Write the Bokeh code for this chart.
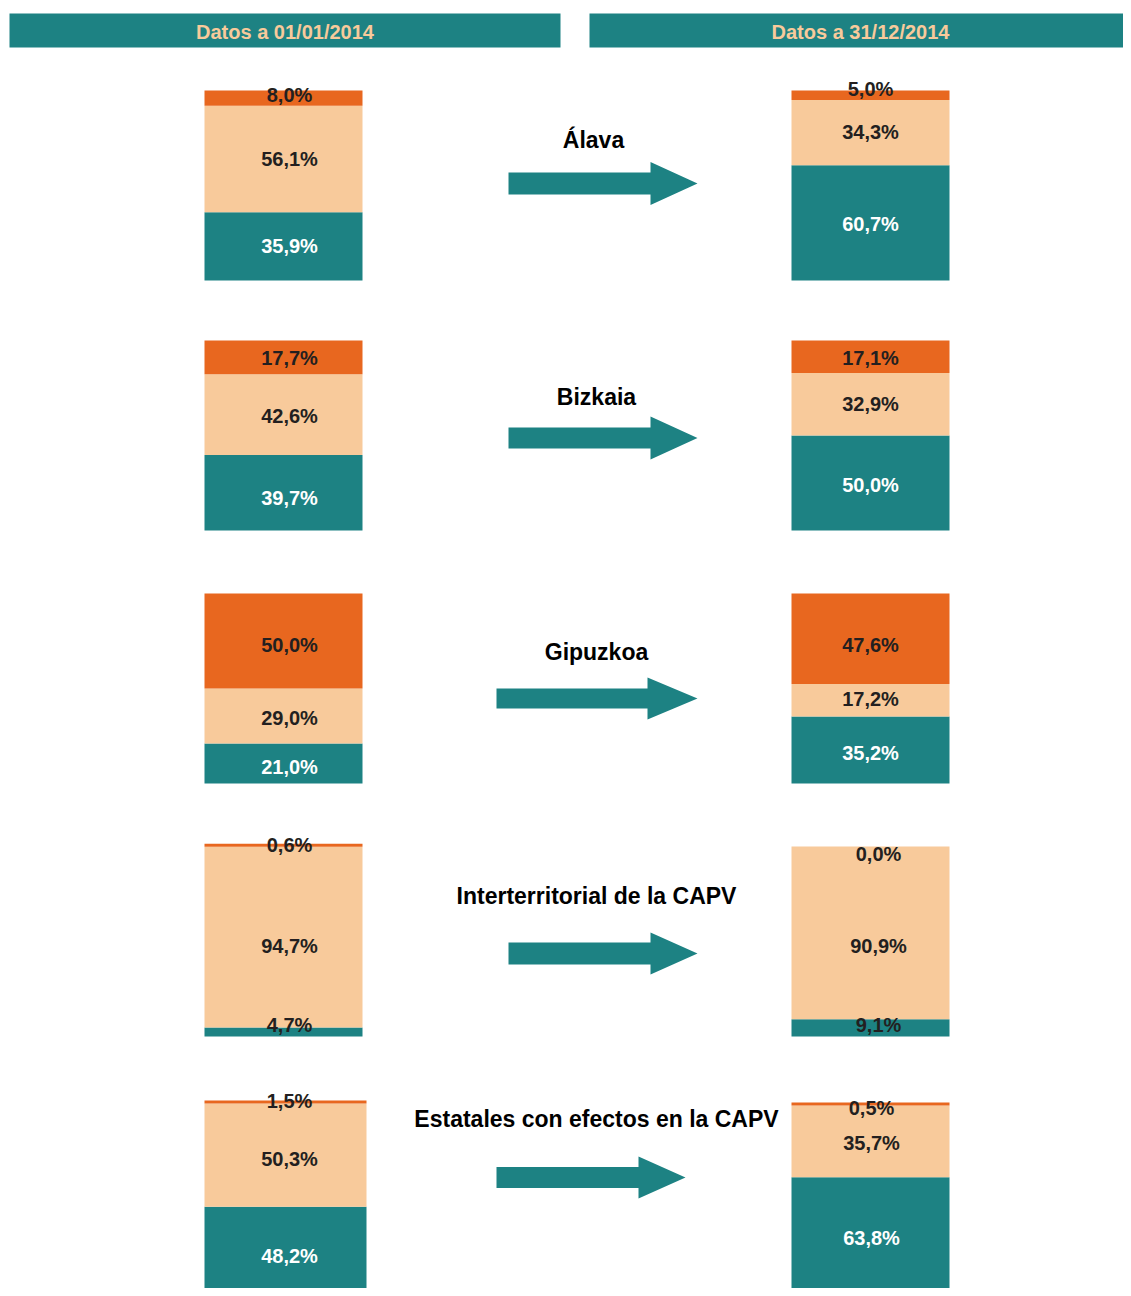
from bokeh.plotting import figure
from bokeh.models import Range1d, ColumnDataSource
from bokeh.core.properties import value
from bokeh.embed import file_html
from bokeh.resources import INLINE

# ---------------- data ----------------
headers = ["Datos a 01/01/2014", "Datos a 31/12/2014"]
rows = ["Álava", "Bizkaia", "Gipuzkoa", "Interterritorial de la CAPV",
        "Estatales con efectos en la CAPV"]
# stacked from bottom: teal, beige, orange
start_teal = [35.9, 39.7, 21.0, 4.7, 48.2]
start_beige = [56.1, 42.6, 29.0, 94.7, 50.3]
start_orange = [8.0, 17.7, 50.0, 0.6, 1.5]
end_teal = [60.7, 50.0, 35.2, 9.1, 63.8]
end_beige = [34.3, 32.9, 17.2, 90.9, 35.7]
end_orange = [5.0, 17.1, 47.6, 0.0, 0.5]

# ---------------- style / layout ----------------
TEAL = "#1D8283"
BEIGE = "#F8CA9B"
ORANGE = "#E8671F"
DARK = "#231F20"
HEAD_TXT = "#F8CA9B"
FONT = "Liberation Sans"

row_top_left = [90, 340, 593, 845, 1100]
row_top_right = [90, 340, 593, 846, 1104]
bar_px_left = [190, 190, 190, 191, 205]
bar_px_right = [190, 190, 190, 190, 201]
left_x0 = [204, 204, 204, 204, 204]
left_x1 = [362, 362, 362, 362, 366]
right_x0 = [791] * 5
right_x1 = [949] * 5
label_x_left = [289] * 5
label_x_right = [870, 870, 870, 878, 871]
# label vertical nudges (teal, beige, orange) in pixels
label_dy_left = [[0, 0, -3], [5, 1, 1], [3, 2, 4], [-3, 9, -1], [0, 4, -1]]
label_dy_right = [[1, -1, -6], [2, 0, 1], [3, -1, 6], [-3, 13, -1], [-3, 2, 3]]
title_x = [593, 596, 596, 596, 596]
title_y = [139, 396, 651, 895, 1118]
# arrows: shaft start, head start, tip, center y, shaft half height, head half height
arrows = [
    (508, 650, 697, 183, 11, 21.5),
    (508, 650, 697, 437.5, 10.5, 21.5),
    (496, 647, 697, 698, 10, 21),
    (508, 650, 697, 953, 11, 21),
    (496, 638, 685, 1177, 10.5, 21),
]

W, H = 1123, 1288
p = figure(width=W, height=H, x_range=Range1d(0, W), y_range=Range1d(H, 0),
           output_backend="svg", toolbar_location=None, min_border=0)
p.axis.visible = False
p.grid.visible = False
p.outline_line_color = None
p.background_fill_color = "white"
p.border_fill_color = "white"

# headers
p.quad(left=[9, 589], right=[560, 1131], top=[13, 13], bottom=[47, 47],
       fill_color=TEAL, line_color=None)
p.text(x=[284.5, 860], y=[31, 31], text=headers, text_align="center",
       text_baseline="middle", text_font=value(FONT), text_font_style="bold",
       text_font_size="20px", text_color=HEAD_TXT)


def fmt(v):
    return f"{v:.1f}".replace(".", ",") + "%"


def bars(teal, beige, orange, tops, pxs, x0s, x1s, lxs, dys):
    q = dict(left=[], right=[], top=[], bottom=[], color=[])
    t = dict(x=[], y=[], text=[], color=[])
    for i in range(len(teal)):
        px = pxs[i] / 100.0
        bottom = tops[i] + pxs[i]
        segs = [(teal[i], TEAL), (beige[i], BEIGE), (orange[i], ORANGE)]
        cur = bottom
        for k, (v, c) in enumerate(segs):
            h = v * px
            top = cur - h
            draw_top = top
            if 0 < h < 3:
                draw_top = cur - 3
            if v > 0:
                q["left"].append(x0s[i]); q["right"].append(x1s[i])
                q["top"].append(draw_top); q["bottom"].append(cur)
                q["color"].append(c)
            ly = (top + cur) / 2
            if v == 0:
                ly = top + 8
            if k == 0:
                ly = min(ly, bottom - 9)
            ly += dys[i][k]
            t["x"].append(lxs[i]); t["y"].append(ly); t["text"].append(fmt(v))
            if c == TEAL and h > 25:
                t["color"].append("white")
            else:
                t["color"].append(DARK)
            cur = top
    p.quad(left="left", right="right", top="top", bottom="bottom", fill_color="color",
           line_color=None, source=ColumnDataSource(q))
    p.text(x="x", y="y", text="text", text_color="color", text_align="center",
           text_baseline="middle", text_font=value(FONT), text_font_style="bold",
           text_font_size="20px", source=ColumnDataSource(t))


bars(start_teal, start_beige, start_orange, row_top_left, bar_px_left,
     left_x0, left_x1, label_x_left, label_dy_left)
bars(end_teal, end_beige, end_orange, row_top_right, bar_px_right,
     right_x0, right_x1, label_x_right, label_dy_right)

# arrows
xs, ys = [], []
for (sx, hx, tx, cy, sh, hh) in arrows:
    xs.append([sx, hx, hx, tx, hx, hx, sx])
    ys.append([cy - sh, cy - sh, cy - hh, cy, cy + hh, cy + sh, cy + sh])
p.patches(xs=xs, ys=ys, fill_color=TEAL, line_color=None)

# titles
p.text(x=title_x, y=title_y, text=rows, text_align="center", text_baseline="middle",
       text_font=value(FONT), text_font_style="bold", text_font_size="23px",
       text_color="black")

open("out.html", "w").write(file_html(p, INLINE))
